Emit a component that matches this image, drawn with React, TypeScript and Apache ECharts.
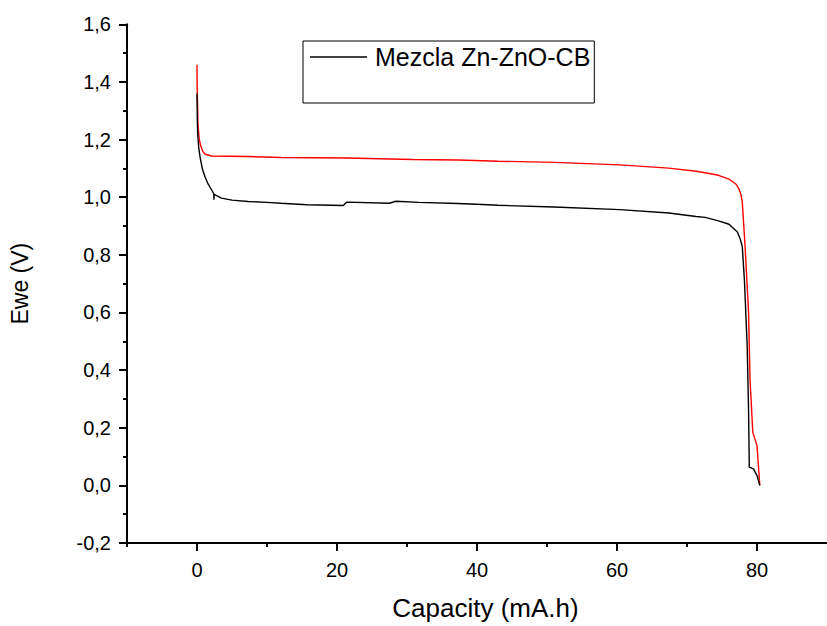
import React, { useEffect, useRef } from "react";
import * as echarts from "echarts";

const seriesNames = ["Mezcla Zn-ZnO-CB", "Carga"];

const blackX = [0, 0.05, 0.1, 0.25, 0.47, 0.8, 1.17, 1.6, 2.1, 2.4, 2.42, 2.45, 3.5, 5, 7.3, 10, 12, 15.7, 20.9, 21.4, 27.5, 28.4, 31.7, 37.3, 41.6, 43, 51, 60.4, 67.4, 71.3, 72.6, 74.5, 76.0, 77.2, 77.6, 77.9, 78.2, 78.4, 78.6, 78.8, 78.9, 79.5, 80.0, 80.4];
const blackY = [1.36, 1.26, 1.22, 1.17, 1.135, 1.095, 1.069, 1.045, 1.025, 1.012, 0.991, 1.01, 0.997, 0.99, 0.985, 0.982, 0.979, 0.974, 0.971, 0.983, 0.979, 0.986, 0.982, 0.978, 0.974, 0.972, 0.966, 0.957, 0.945, 0.933, 0.93, 0.918, 0.906, 0.879, 0.855, 0.828, 0.713, 0.6, 0.483, 0.253, 0.063, 0.057, 0.034, 0.0];

const redX = [0, 0.03, 0.14, 0.3, 0.47, 0.8, 1.17, 2.1, 7.3, 12, 21.4, 30.8, 37.3, 43, 51, 60.4, 67.4, 71.3, 72.6, 74.5, 76.0, 77.0, 77.4, 77.7, 77.9, 78.3, 78.8, 79.0, 79.4, 80.0, 80.2, 80.4];
const redY = [1.46, 1.37, 1.253, 1.205, 1.184, 1.16, 1.149, 1.143, 1.141, 1.138, 1.136, 1.131, 1.129, 1.125, 1.121, 1.112, 1.101, 1.09, 1.085, 1.076, 1.063, 1.045, 1.03, 1.01, 0.983, 0.828, 0.598, 0.368, 0.184, 0.138, 0.069, 0.0];

const xMajorTicks = [0, 20, 40, 60, 80];
const xMinorTicks = [-10, 10, 30, 50, 70];

const FONT = '"Liberation Sans", Arial, sans-serif';

export default function App() {
  const ref = useRef<HTMLDivElement>(null);
  useEffect(() => {
    if (!ref.current) return;
    document.body.style.margin = "0";
    document.body.style.overflow = "hidden";
    const chart = echarts.init(ref.current, null, { renderer: "svg" });
    const zip = (xs: number[], ys: number[]) => xs.map((x, i) => [x, ys[i]]);
    chart.setOption({
      animation: false,
      backgroundColor: "#fff",
      textStyle: { fontFamily: FONT },
      grid: { left: 124, top: 24.3, width: 709.6, height: 523.4 },
      legend: {
        data: [{ name: seriesNames[0], icon: "rect" }],
        left: 303,
        top: 41,
        padding: [1, 4, 31, 7],
        itemWidth: 57,
        itemHeight: 1.3,
        borderColor: "#000",
        borderWidth: 1,
        textStyle: { fontSize: 25, lineHeight: 30, color: "#000", fontFamily: FONT, padding: [0, 0, 0, 3] },
      },
      xAxis: [
        {
          type: "value",
          min: -10,
          max: 90,
          interval: 10,
          name: "Capacity (mA.h)",
          nameLocation: "middle",
          nameGap: 52,
          nameTextStyle: { fontSize: 26, color: "#000", fontFamily: FONT, padding: [0, 0, 0, 17] },
          axisLine: { show: true, onZero: false, lineStyle: { color: "#000", width: 2 } },
          axisTick: { show: true, length: 8, customValues: xMajorTicks, lineStyle: { color: "#000", width: 2 } },
          axisLabel: { customValues: xMajorTicks, fontSize: 20, color: "#000", margin: 17, fontFamily: FONT },
          splitLine: { show: false },
        },
        {
          type: "value",
          min: -10,
          max: 90,
          interval: 10,
          position: "bottom",
          axisLine: { show: false, onZero: false },
          axisTick: { show: true, length: 4, customValues: xMinorTicks, lineStyle: { color: "#000", width: 2 } },
          axisLabel: { show: false },
          splitLine: { show: false },
        },
      ],
      yAxis: {
        type: "value",
        min: -0.2,
        max: 1.6,
        interval: 0.2,
        name: "Ewe (V)",
        nameLocation: "middle",
        nameGap: 96,
        nameTextStyle: { fontSize: 23, color: "#000", fontFamily: FONT },
        axisLine: { show: true, onZero: false, lineStyle: { color: "#000", width: 2 } },
        axisTick: { show: true, length: 8, lineStyle: { color: "#000", width: 2 } },
        minorTick: { show: true, splitNumber: 2, length: 4, lineStyle: { color: "#000", width: 2 } },
        axisLabel: {
          fontSize: 20,
          color: "#000",
          margin: 16,
          fontFamily: FONT,
          formatter: (v: number) => (Math.abs(v) < 1e-9 ? 0 : v).toFixed(1).replace(".", ","),
        },
        splitLine: { show: false },
      },
      series: [
        {
          name: seriesNames[0],
          type: "line",
          data: zip(blackX, blackY),
          symbol: "none",
          showSymbol: false,
          lineStyle: { color: "#000", width: 1.4 },
          itemStyle: { color: "#000" },
          z: 3,
        },
        {
          name: seriesNames[1],
          type: "line",
          data: zip(redX, redY),
          symbol: "none",
          showSymbol: false,
          lineStyle: { color: "#ff0000", width: 1.4 },
          itemStyle: { color: "#ff0000" },
          z: 2,
        },
      ],
    });
    return () => chart.dispose();
  }, []);
  return <div ref={ref} style={{ width: 827, height: 626 }} />;
}
